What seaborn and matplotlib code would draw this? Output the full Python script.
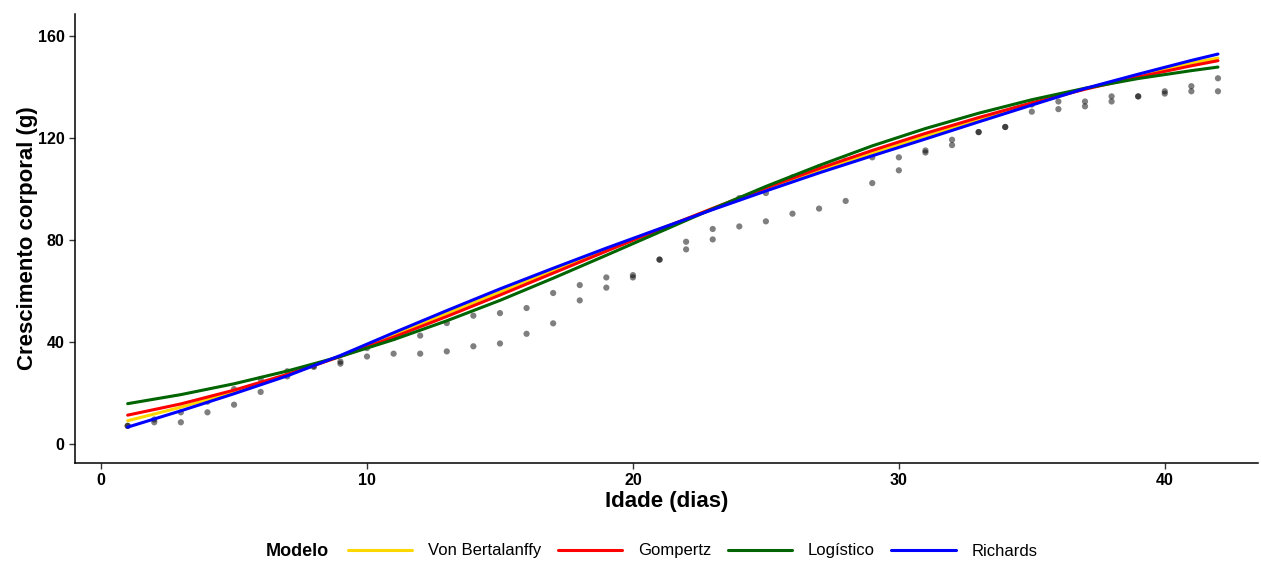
import matplotlib
matplotlib.use("Agg")
import matplotlib.pyplot as plt
from matplotlib.lines import Line2D
import seaborn as sns
import numpy as np
import pandas as pd

# observed weights, two birds per day
dias = list(range(1, 43))
peso_a = [7, 9.5, 12.3, 16.5, 21.4, 25.4, 28.4, 30.5, 32.2, 37.5,
          41.5, 42.4, 47.3, 50.2, 51.2, 53.2, 59.1, 62.2, 65.2, 66.1,
          72.2, 79.2, 84.2, 96.3, 98.3, 104.4, 108.4, 111.0, 112.3, 112.3,
          115.0, 119.2, 122.2, 124.2, 133.0, 134.2, 134.2, 136.2, 136.2, 138.2,
          140.2, 143.3]
peso_b = [7, 8.4, 8.4, 12.3, 15.3, 20.3, 26.4, 30.1, 31.4, 34.2,
          35.3, 35.3, 36.2, 38.2, 39.3, 43.1, 47.2, 56.2, 61.2, 65.2,
          72.2, 76.2, 80.1, 85.2, 87.2, 90.2, 92.2, 95.2, 102.2, 107.2,
          114.2, 117.1, 122.2, 124.2, 130.2, 131.2, 132.3, 134.2, 136.2, 137.3,
          138.2, 138.2]

# fitted curves, read at these days
dias_curva = [1, 3, 5, 7, 9, 11, 13, 15, 17, 19, 21, 23, 25, 27, 29, 31, 33, 35, 37, 39, 41, 42]
von_bertalanffy = [9.0, 14.3, 20.3, 26.9, 34.4, 42.7, 51.1, 59.5, 67.9, 76.1, 84.2,
                   92.0, 99.7, 107.0, 114.0, 120.6, 127.0, 133.2, 139.2, 144.4, 149.3, 151.2]
gompertz = [11.2, 15.6, 21.0, 27.2, 34.2, 41.8, 49.9, 58.3, 66.9, 75.5, 84.0,
            92.3, 100.3, 107.9, 115.0, 121.7, 127.9, 133.7, 139.0, 143.8, 148.2, 150.2]
logistico = [15.7, 19.25, 23.5, 28.5, 34.2, 40.8, 48.2, 56.2, 64.9, 73.9, 83.0,
             92.1, 100.9, 109.1, 116.8, 123.6, 129.6, 134.9, 139.4, 143.2, 146.3, 147.7]
richards = [6.5, 12.9, 19.6, 26.6, 34.6, 43.5, 52.2, 60.7, 68.8, 76.7, 84.3,
            91.8, 99.1, 106.2, 112.9, 119.5, 126.2, 132.8, 139.3, 144.9, 150.3, 152.8]

modelos = ["Von Bertalanffy", "Gompertz", "Logístico", "Richards"]
cores = {"Von Bertalanffy": "gold", "Gompertz": "red", "Logístico": "darkgreen", "Richards": "blue"}

obs = pd.DataFrame({"Idade": dias * 2, "Peso": peso_a + peso_b})
curvas = pd.concat([
    pd.DataFrame({"Idade": dias_curva, "Peso": vals, "Modelo": m})
    for m, vals in zip(modelos, [von_bertalanffy, gompertz, logistico, richards])
])

sns.set_theme(style="ticks")
plt.rcParams["font.family"] = ["Liberation Sans", "DejaVu Sans"]
plt.rcParams["text.color"] = "black"
plt.rcParams["axes.labelcolor"] = "black"

fig = plt.figure(figsize=(12.61, 5.61), dpi=100)
ax = fig.add_axes([0.0595, 0.175, 0.938, 0.8])

sns.scatterplot(data=obs, x="Idade", y="Peso", color="black", alpha=0.5, s=20,
                edgecolor="none", ax=ax, zorder=1)
sns.lineplot(data=curvas, x="Idade", y="Peso", hue="Modelo", hue_order=modelos,
             palette=cores, linewidth=2.2, legend=False, ax=ax, zorder=2)

ax.set_xlim(-0.98, 43.5)
ax.set_ylim(-7.5, 168.5)
ax.set_xticks([0, 10, 20, 30, 40])
ax.set_yticks([0, 40, 80, 120, 160])
ax.set_xlabel("Idade (dias)", fontsize=16, fontweight="bold", labelpad=2)
ax.set_ylabel("Crescimento corporal (g)", fontsize=16, fontweight="bold", labelpad=0)
ax.tick_params(labelsize=11.5, length=4, width=1, color="#333333", labelcolor="black")
for lab in ax.get_xticklabels() + ax.get_yticklabels():
    lab.set_fontweight("bold")
sns.despine(ax=ax)
for s in ["left", "bottom"]:
    ax.spines[s].set_linewidth(1.1)
    ax.spines[s].set_color("black")

handles = [Line2D([], [], color=cores[m], lw=2.2) for m in modelos]
fig.text(266 / 1261, 1 - 551 / 561, "Modelo", fontsize=13, fontweight="bold",
         ha="left", va="center")
fig.legend(handles, modelos, loc="center left", bbox_to_anchor=(348 / 1261, 1 - 551 / 561),
           ncol=4, frameon=False, fontsize=12, handlelength=3.85, handletextpad=0.95,
           columnspacing=1.0, borderpad=0, borderaxespad=0)

fig.savefig("out.png", dpi=100)
